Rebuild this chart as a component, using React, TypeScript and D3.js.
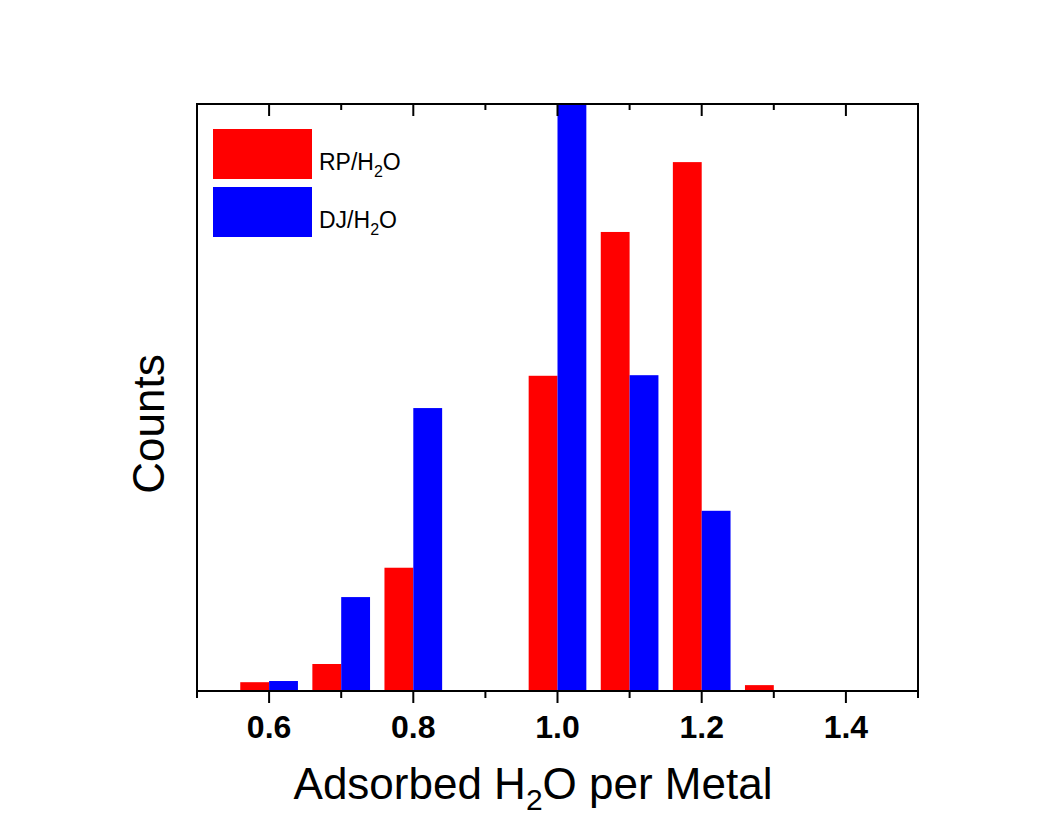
import React from "react";
import * as d3 from "d3";

// histogram bin centres (adsorbed H2O per metal)
const binCenters = [0.6, 0.7, 0.8, 0.9, 1.0, 1.1, 1.2, 1.3];
const rpCounts = [1.5, 4.6, 21, 0, 53.7, 78.2, 90.1, 1.0];
const djCounts = [1.7, 16, 48.2, 0, 100, 53.8, 30.7, 0];
const majorTicks = [0.6, 0.8, 1.0, 1.2, 1.4];
const minorTicks = [0.5, 0.7, 0.9, 1.1, 1.3, 1.5];
const seriesNames = ["RP/H", "DJ/H"];

const width = 1049;
const height = 816;
const margin = { top: 104, right: 131, bottom: 125, left: 197 };
const binWidth = 0.04;
const font = "'Liberation Sans', Arial, Helvetica, sans-serif";

const App = () => {
  const x = d3
    .scaleLinear()
    .domain([0.5, 1.5])
    .range([margin.left, width - margin.right]);
  const y = d3
    .scaleLinear()
    .domain([0, 100])
    .range([height - margin.bottom, margin.top]);

  const y0 = y(0);
  const yTop = margin.top;
  const colors = ["#ff0000", "#0000ff"];

  return (
    <svg
      width={width}
      height={height}
      style={{ position: "absolute", left: 0, top: 0, background: "#ffffff" }}
    >
      <defs>
        <clipPath id="plotClip">
          <rect x={x(0.5)} y={yTop} width={x(1.5) - x(0.5)} height={y0 - yTop} />
        </clipPath>
      </defs>

      <g clipPath="url(#plotClip)">
        {binCenters.map((c, i) => (
          <g key={c}>
            {rpCounts[i] > 0 && (
              <rect
                x={x(c - binWidth)}
                y={y(rpCounts[i])}
                width={x(c) - x(c - binWidth)}
                height={y0 - y(rpCounts[i])}
                fill={colors[0]}
              />
            )}
            {djCounts[i] > 0 && (
              <rect
                x={x(c)}
                y={y(djCounts[i])}
                width={x(c + binWidth) - x(c)}
                height={y0 - y(djCounts[i])}
                fill={colors[1]}
              />
            )}
          </g>
        ))}
      </g>

      {/* frame */}
      <rect
        x={x(0.5)}
        y={yTop}
        width={x(1.5) - x(0.5)}
        height={y0 - yTop}
        fill="none"
        stroke="#000"
        strokeWidth={2}
      />

      {/* bottom ticks point outward, top ticks inward */}
      {majorTicks.map((t) => (
        <g key={"M" + t}>
          <line x1={x(t)} x2={x(t)} y1={y0} y2={y0 + 12} stroke="#000" strokeWidth={2} />
          <line x1={x(t)} x2={x(t)} y1={yTop} y2={yTop + 12} stroke="#000" strokeWidth={2} />
          <text
            x={x(t)}
            y={738}
            textAnchor="middle"
            fontFamily={font}
            fontWeight="bold"
            fontSize={32}
            fill="#000"
          >
            {d3.format(".1f")(t)}
          </text>
        </g>
      ))}
      {minorTicks.map((t) => (
        <g key={"m" + t}>
          <line x1={x(t)} x2={x(t)} y1={y0} y2={y0 + 7} stroke="#000" strokeWidth={2} />
          <line x1={x(t)} x2={x(t)} y1={yTop} y2={yTop + 6} stroke="#000" strokeWidth={2} />
        </g>
      ))}

      {/* axis titles */}
      <text x={533} y={799} textAnchor="middle" fontFamily={font} fontSize={44} fill="#000">
        Adsorbed H<tspan dy={11} fontSize={30}>2</tspan>
        <tspan dy={-11}>O per Metal</tspan>
      </text>
      <text
        transform={`translate(164,424) rotate(-90)`}
        textAnchor="middle"
        fontFamily={font}
        fontSize={44}
        fill="#000"
      >
        Counts
      </text>

      {/* legend */}
      {seriesNames.map((name, i) => (
        <g key={name}>
          <rect x={213} y={129 + i * 58} width={99} height={50} fill={colors[i]} />
          <text x={319} y={170 + i * 58} fontFamily={font} fontSize={23} fill="#000">
            {name}
            <tspan dy={7} fontSize={16}>2</tspan>
            <tspan dy={-7}>O</tspan>
          </text>
        </g>
      ))}
    </svg>
  );
};

export default App;
